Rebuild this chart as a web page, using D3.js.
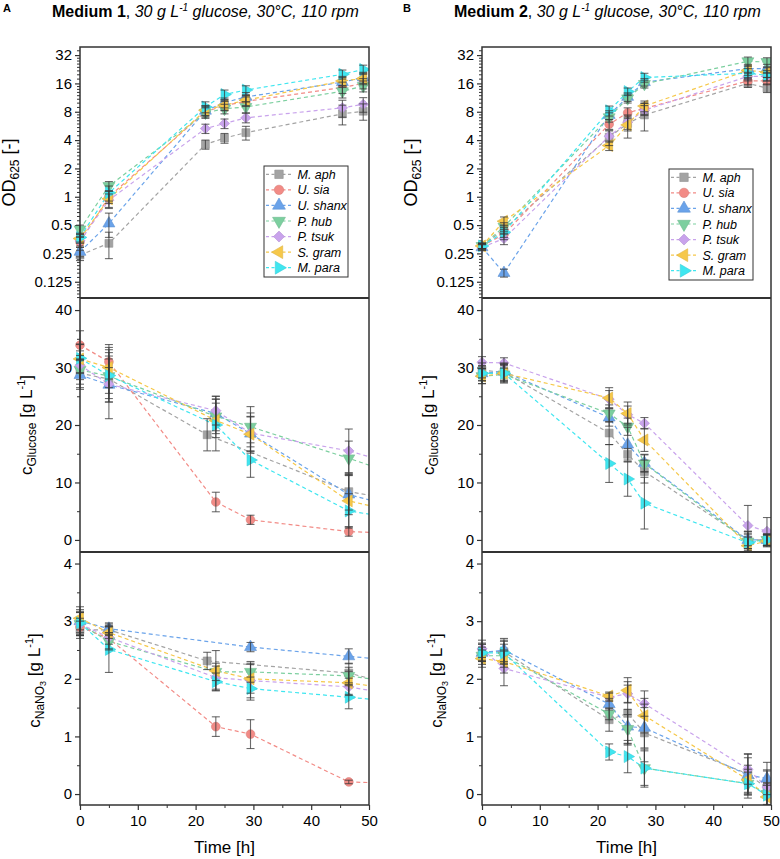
<!DOCTYPE html>
<html><head><meta charset="utf-8">
<script src="https://cdn.jsdelivr.net/npm/d3@7"></script>
<style>body{margin:0;background:#fff} svg{display:block;font-family:"Liberation Sans", Arial, sans-serif}</style>
</head><body><svg id="c" width="780" height="859"></svg>
<script>
// ---------------- DATA ----------------
const seriesNames = ["M. aph","U. sia","U. shanx","P. hub","P. tsuk","S. gram","M. para"];
const seriesColors = ["#a3a3a3","#f28b86","#6aa3ea","#7ccf9f","#c9a3ec","#f6c84a","#3fe6f0"];

const odTicks = [0.125,0.25,0.5,1,2,4,8,16,32];
const gluTicks = [0,10,20,30,40];
const nitTicks = [0,1,2,3,4];
const timeTicks = [0,10,20,30,40,50];

// Medium 1 - OD625
const m1OdTime = [0, 5, 21.7, 25, 28.7, 45.4, 49];
const m1Od = [
 [0.24, 0.32, 3.6, 4.2, 4.8, 7.6, 8.1],
 [0.33, 1.0, 8.0, 9.3, 10.3, 14.5, 16],
 [0.26, 0.52, 8.2, 10, 11.5, 16.5, 18.5],
 [0.45, 1.3, 7.8, 8.6, 9.0, 13.2, 15],
 [0.34, 0.92, 5.3, 6.0, 6.9, 8.8, 9.6],
 [0.36, 0.95, 8.3, 9.4, 10.6, 17, 18],
 [0.37, 1.1, 9.0, 12.2, 13.6, 20, 22.5]
];
const m1OdErr = [
 [0.03,0.1,0.4,0.5,0.8,1.8,1.6],
 [0.04,0.15,1.0,1.0,1.2,2,2],
 [0.03,0.15,1.0,1.2,1.3,2,2.5],
 [0.05,0.15,1.0,1.0,1.2,2,2],
 [0.04,0.15,0.6,0.7,0.8,1.8,1.7],
 [0.04,0.2,1.0,1.2,1.3,2,2.5],
 [0.04,0.2,1.2,1.4,1.5,2.2,2.5]
];

// Medium 2 - OD625
const m2OdTime = [0, 3.8, 22, 25.2, 28.1, 46, 49.3];
const m2Od = [
 [0.30, 0.45, 4.3, 6.0, 7.4, 16, 14.3],
 [0.30, 0.40, 5.9, 7.8, 8.7, 17, 17],
 [0.29, 0.155, 7.4, 11.5, 16.5, 23, 23],
 [0.30, 0.48, 7.0, 11.1, 15.8, 27.5, 27],
 [0.29, 0.36, 4.4, 6.2, 8.3, 19, 19],
 [0.30, 0.55, 3.5, 5.8, 9.2, 22, 21],
 [0.30, 0.42, 8.2, 13.1, 18.5, 20.5, 19.5]
];
const m2OdErr = [
 [0.02,0.05,0.8,1.0,2.4,1.5,1.5],
 [0.02,0.05,0.7,1.0,1.2,1.5,1.5],
 [0.02,0.015,0.8,1.2,1.5,2.5,2.5],
 [0.02,0.05,0.8,1.2,1.5,3,3],
 [0.02,0.05,0.6,1.0,1.0,2,2],
 [0.02,0.06,0.4,1.6,1.2,2.5,2.5],
 [0.02,0.05,1.0,1.2,2.0,2.5,2.5]
];

// Medium 1 - glucose
const m1GluTime = [0, 5, 22, 23.5, 29.5, 46.5, 53];
const m1Glu = [
 [29.0, 28.0, 18.3, null, null, 8.4, 7.3],
 [33.9, 31.0, null, 6.6, 3.5, 1.45, 1.2],
 [28.7, 27.0, null, 22.0, 18.5, 7.9, 6.2],
 [29.6, 28.5, null, 21.5, 19.7, 14.2, 12.0],
 [30.4, 27.1, null, 22.5, 18.6, 15.5, 13.6],
 [31.5, 30.0, null, 20.8, 18.4, 6.8, 5.3],
 [31.6, 28.6, null, 20.0, 13.9, 5.05, 4.0]
];
const m1GluErr = [
 [2.5, 4, 2.8, null, null, 3.2, 3],
 [2.5, 3, null, 1.7, 0.8, 0.8, 0.8],
 [2.5, 3, null, 3, 3, 3.5, 3],
 [2.5, 3, null, 3, 3.5, 3, 3],
 [2.5, 6, null, 2.5, 3.5, 3.8, 3],
 [2.5, 3.5, null, 3, 3, 4.5, 3],
 [2.5, 4, null, 4.5, 3, 3, 3]
];

// Medium 2 - glucose (no U. sia data)
const m2GluTime = [0, 3.8, 22, 25.2, 28.1, 46, 49.3];
const m2Glu = [
 [29.5, 29.2, 18.6, 14.9, 11.9, 0.0, 0.0],
 null,
 [29.0, 29.3, 21.3, 16.6, 13.4, 0.0, 0.0],
 [28.5, 28.8, 22.0, 19.7, 13.3, -0.3, 0.0],
 [30.9, 30.8, 24.5, 21.8, 20.3, 2.5, 1.5],
 [28.5, 29.0, 24.7, 22.0, 17.4, -1.0, -0.2],
 [29.0, 29.0, 13.3, 10.6, 6.4, -0.5, 0.0]
];
const m2GluErr = [
 [1.3, 1.5, 2.0, 1.0, 2.0, 1.5, 1.0],
 null,
 [1.3, 1.5, 1.5, 3.0, 1.5, 1.5, 1.0],
 [1.3, 1.5, 1.5, 1.5, 1.5, 1.5, 1.0],
 [1.0, 0.9, 1.5, 1.5, 1.0, 3.5, 2.4],
 [1.3, 1.5, 1.8, 2.0, 2.0, 1.5, 1.0],
 [1.3, 1.5, 3.3, 3.0, 4.5, 1.5, 1.0]
];

// Medium 1 - NaNO3
const m1NitTime = [0, 5, 22, 23.5, 29.5, 46.5, 53];
const m1Nit = [
 [2.85, 2.85, 2.31, null, null, 2.10, 1.93],
 [2.90, 2.70, null, 1.17, 1.04, 0.21, 0.19],
 [3.00, 2.87, null, null, 2.55, 2.39, 2.33],
 [2.95, 2.65, null, 2.12, 2.12, 2.05, 1.96],
 [2.95, 2.72, null, 2.02, 1.97, 1.86, 1.75],
 [3.05, 2.80, null, 2.14, 2.00, 1.93, 1.84],
 [2.97, 2.51, null, 1.95, 1.83, 1.68, 1.62]
];
const m1NitErr = [
 [0.15, 0.1, 0.15, null, null, 0.17, 0.15],
 [0.15, 0.1, null, 0.17, 0.25, 0.03, 0.03],
 [0.2, 0.1, null, null, 0.08, 0.13, 0.1],
 [0.2, 0.15, null, 0.15, 0.18, 0.15, 0.15],
 [0.2, 0.2, null, 0.2, 0.3, 0.15, 0.15],
 [0.2, 0.1, null, 0.35, 0.25, 0.2, 0.2],
 [0.2, 0.4, null, 0.15, 0.2, 0.2, 0.2]
];

// Medium 2 - NaNO3 (no U. sia data)
const m2NitTime = [0, 3.8, 22, 25.2, 28.1, 46, 49.3];
const m2Nit = [
 [2.47, 2.47, 1.29, 1.40, 1.06, 0.35, 0.10],
 null,
 [2.45, 2.50, 1.56, 1.17, 1.15, 0.33, 0.27],
 [2.40, 2.40, 1.39, 1.13, 0.45, 0.18, 0.00],
 [2.52, 2.18, 1.68, 1.74, 1.57, 0.43, 0.12],
 [2.35, 2.30, 1.70, 1.80, 1.36, 0.25, -0.05],
 [2.45, 2.45, 0.73, 0.65, 0.45, 0.18, -0.02]
];
const m2NitErr = [
 [0.15, 0.2, 0.2, 0.55, 0.5, 0.35, 0.3],
 null,
 [0.15, 0.2, 0.1, 0.3, 0.35, 0.3, 0.28],
 [0.15, 0.2, 0.1, 0.25, 0.33, 0.25, 0.2],
 [0.15, 0.3, 0.07, 0.15, 0.22, 0.26, 0.3],
 [0.15, 0.2, 0.07, 0.22, 0.3, 0.25, 0.2],
 [0.15, 0.2, 0.14, 0.28, 0.3, 0.2, 0.2]
];

// ---------------- STYLE / LAYOUT ----------------
const symbolDefs = [
 {type: d3.symbolSquare, size: 62, rot: 0},
 {type: d3.symbolCircle, size: 60, rot: 0},
 {type: d3.symbolTriangle, size: 62, rot: 0},
 {type: d3.symbolTriangle, size: 62, rot: 180},
 {type: d3.symbolSquare, size: 52, rot: 45},
 {type: d3.symbolTriangle, size: 62, rot: -90},
 {type: d3.symbolTriangle, size: 62, rot: 90}
];
const cols = [[80,369],[482,771]];
const rows = [[47,298],[298,552],[552,805]];
const frameColor = "#333";
const svg = d3.select("#c");
const defs = svg.append("defs");

const yScales = [
  d3.scaleLog().base(2).domain([0.084, 39]).range([rows[0][1], rows[0][0]]),
  d3.scaleLinear().domain([-2.1, 42.1]).range([rows[1][1], rows[1][0]]),
  d3.scaleLinear().domain([-0.19, 4.2]).range([rows[2][1], rows[2][0]])
];
const yTickSets = [odTicks, gluTicks, nitTicks];
const minorSets = [
  (() => { const a=[]; for(let n=-4;n<=5;n++){ for(let i=1;i<8;i++){ const v=Math.pow(2,n)*(1+i/8); if(v>0.084 && v<39) a.push(v);} } return a; })(),
  [5,15,25,35],
  [0.5,1.5,2.5,3.5]
];

let clipId = 0;
function drawPanel(ci, ri, times, vals, errs){
  const [x0,x1] = cols[ci];
  const [yt,yb] = rows[ri];
  const x = d3.scaleLinear().domain([0,50]).range([x0,x1]);
  const y = yScales[ri];
  const id = "clip"+(clipId++);
  defs.append("clipPath").attr("id", id).append("rect")
    .attr("x", x0-8).attr("y", yt).attr("width", x1-x0+8).attr("height", yb-yt);
  const lid = "lclip"+(clipId++);
  defs.append("clipPath").attr("id", lid).append("rect")
    .attr("x", x0).attr("y", yt).attr("width", x1-x0).attr("height", yb-yt);
  const g = svg.append("g");

  // y axis
  const ya = g.append("g").attr("transform",`translate(${x0},0)`)
    .call(d3.axisLeft(y).tickValues(yTickSets[ri]).tickSize(5).tickPadding(3).tickFormat(d=>String(d)));
  ya.select(".domain").remove();
  ya.selectAll("line").attr("stroke", frameColor).attr("stroke-width",1.2);
  ya.selectAll("text").attr("font-size",15).attr("fill","#000").attr("font-family",'"Liberation Sans", Arial, sans-serif');
  const ym = g.append("g").attr("transform",`translate(${x0},0)`)
    .call(d3.axisLeft(y).tickValues(minorSets[ri]).tickSize(3).tickFormat(""));
  ym.select(".domain").remove();
  ym.selectAll("line").attr("stroke", frameColor).attr("stroke-width",1);

  if (ri === 2){
    const xa = g.append("g").attr("transform",`translate(0,${yb})`)
      .call(d3.axisBottom(x).tickValues(timeTicks).tickSize(5).tickPadding(5));
    xa.select(".domain").remove();
    xa.selectAll("line").attr("stroke", frameColor).attr("stroke-width",1.2);
    xa.selectAll("text").attr("font-size",15).attr("fill","#000").attr("font-family",'"Liberation Sans", Arial, sans-serif');
    const xm = g.append("g").attr("transform",`translate(0,${yb})`)
      .call(d3.axisBottom(x).tickValues([5,15,25,35,45]).tickSize(3).tickFormat(""));
    xm.select(".domain").remove();
    xm.selectAll("line").attr("stroke", frameColor).attr("stroke-width",1);
  }

  const line = d3.line().x(d=>x(d.t)).y(d=>y(d.v));
  const series = vals.map((row,si)=> row ? row.map((v,k)=>({t:times[k], v, e: errs[si] ? errs[si][k] : null})).filter(d=>d.v!==null) : null);

  const lg = g.append("g").attr("clip-path",`url(#${lid})`);
  series.forEach((pts,si)=>{
    if(!pts) return;
    lg.append("path").attr("d", line(pts)).attr("fill","none")
      .attr("stroke", seriesColors[si]).attr("stroke-width",1.2).attr("stroke-dasharray","4,3");
  });
  const mg = g.append("g").attr("clip-path",`url(#${id})`);
  series.forEach((pts,si)=>{
    if(!pts) return;
    const sd = symbolDefs[si];
    const sym = d3.symbol().type(sd.type).size(sd.size);
    mg.selectAll(null).data(pts.filter(d=>d.t<=50)).enter().append("path")
      .attr("d", sym).attr("transform", d=>`translate(${x(d.t)},${y(d.v)}) rotate(${sd.rot})`)
      .attr("fill", seriesColors[si]).attr("stroke", d3.color(seriesColors[si]).darker(0.3)).attr("stroke-width",0.6);
  });
  series.forEach((pts,si)=>{
    if(!pts) return;
    pts.filter(d=>d.t<=50 && d.e).forEach(d=>{
      const lo = ri===0 ? Math.max(d.v-d.e, 0.05) : d.v-d.e;
      const hi = d.v+d.e;
      const xx = x(d.t);
      const eg = mg.append("g").attr("stroke","#3a3a3a").attr("stroke-opacity",0.75).attr("stroke-width",1.1);
      eg.append("line").attr("x1",xx).attr("x2",xx).attr("y1",y(lo)).attr("y2",y(hi));
      eg.append("line").attr("x1",xx-4).attr("x2",xx+4).attr("y1",y(lo)).attr("y2",y(lo));
      eg.append("line").attr("x1",xx-4).attr("x2",xx+4).attr("y1",y(hi)).attr("y2",y(hi));
    });
  });
}

drawPanel(0,0,m1OdTime,m1Od,m1OdErr);
drawPanel(1,0,m2OdTime,m2Od,m2OdErr);
drawPanel(0,1,m1GluTime,m1Glu,m1GluErr);
drawPanel(1,1,m2GluTime,m2Glu,m2GluErr);
drawPanel(0,2,m1NitTime,m1Nit,m1NitErr);
drawPanel(1,2,m2NitTime,m2Nit,m2NitErr);

// frames
cols.forEach(([x0,x1])=>{
  svg.append("rect").attr("x",x0).attr("y",rows[0][0]).attr("width",x1-x0).attr("height",rows[2][1]-rows[0][0])
    .attr("fill","none").attr("stroke",frameColor).attr("stroke-width",1.5);
  [rows[1][0], rows[2][0]].forEach(yy=>{
    svg.append("line").attr("x1",x0).attr("x2",x1).attr("y1",yy).attr("y2",yy)
      .attr("stroke",frameColor).attr("stroke-width",1.8);
  });
});

// legends
const legendBoxes = [[264,166,84,111],[669,169,84,111]];
legendBoxes.forEach(([bx,by,bw,bh])=>{
  const lg = svg.append("g");
  lg.append("rect").attr("x",bx).attr("y",by).attr("width",bw).attr("height",bh)
    .attr("fill","#fff").attr("stroke",frameColor).attr("stroke-width",1);
  seriesNames.forEach((name,si)=>{
    const cy = by + 8.3 + si*15.57;
    lg.append("line").attr("x1",bx+2).attr("x2",bx+28).attr("y1",cy).attr("y2",cy)
      .attr("stroke",seriesColors[si]).attr("stroke-width",1.2).attr("stroke-dasharray","3,2.5");
    const sd = symbolDefs[si];
    lg.append("path").attr("d", d3.symbol().type(sd.type).size(sd.size*1.15)())
      .attr("transform",`translate(${bx+15},${cy}) rotate(${sd.rot})`)
      .attr("fill",seriesColors[si]).attr("stroke", d3.color(seriesColors[si]).darker(0.3)).attr("stroke-width",0.6);
    lg.append("text").attr("x",bx+33.5).attr("y",cy+4.5).attr("font-size",12.5)
      .attr("font-style","italic").attr("fill","#000").text(name);
  });
});

// titles
function title(xs, label, medium){
  const t = svg.append("text").attr("x", xs).attr("y", 17).attr("font-size", 16).attr("fill","#000");
  t.append("tspan").attr("font-weight","bold").text(medium);
  t.append("tspan").text(", ");
  t.append("tspan").attr("font-style","italic").text("30 g L");
  t.append("tspan").attr("font-style","italic").attr("font-size",10).attr("dy",-6).text("-1");
  t.append("tspan").attr("font-style","italic").attr("dy",6).text(" glucose, 30°C, 110 rpm");
  svg.append("text").attr("x", label==="A"?3:403).attr("y",12).attr("font-size",11).attr("font-weight","bold").text(label);
}
title(52,"A","Medium 1");
title(454,"B","Medium 2");

// axis labels
cols.forEach(([x0,x1],ci)=>{
  const off = x0 - 80;
  // OD
  const od = svg.append("text").attr("transform",`translate(${15+off},${(rows[0][0]+rows[0][1])/2}) rotate(-90)`)
    .attr("text-anchor","middle").attr("font-size",18);
  od.append("tspan").text("OD");
  od.append("tspan").attr("font-size",12).attr("dy",4).text("625");
  od.append("tspan").attr("dy",-4).text(" [-]");
  // Glucose
  const gl = svg.append("text").attr("transform",`translate(${32+off},${(rows[1][0]+rows[1][1])/2}) rotate(-90)`)
    .attr("text-anchor","middle").attr("font-size",17);
  gl.append("tspan").text("c");
  gl.append("tspan").attr("font-size",12).attr("dy",4).text("Glucose");
  gl.append("tspan").attr("dy",-4).text(" [g L");
  gl.append("tspan").attr("font-size",11).attr("dy",-7).text("-1");
  gl.append("tspan").attr("dy",7).text("]");
  // NaNO3
  const nn = svg.append("text").attr("transform",`translate(${40+off},${(rows[2][0]+rows[2][1])/2+2}) rotate(-90)`)
    .attr("text-anchor","middle").attr("font-size",17);
  nn.append("tspan").text("c");
  nn.append("tspan").attr("font-size",12).attr("dy",4).text("NaNO");
  nn.append("tspan").attr("font-size",9).attr("dy",2).text("3");
  nn.append("tspan").attr("dy",-6).text(" [g L");
  nn.append("tspan").attr("font-size",11).attr("dy",-7).text("-1");
  nn.append("tspan").attr("dy",7).text("]");
  // Time
  svg.append("text").attr("x",(x0+x1)/2).attr("y",853).attr("text-anchor","middle").attr("font-size",17).text("Time [h]");
});
</script></body></html>
